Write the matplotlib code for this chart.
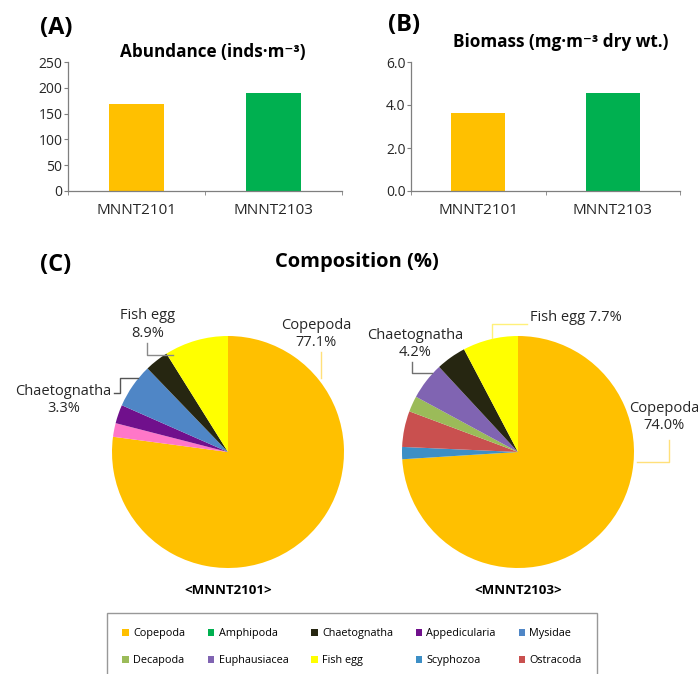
import matplotlib.pyplot as plt
from matplotlib.patches import Patch
import numpy as np

plt.rcParams['font.family'] = ['Open Sans', 'DejaVu Sans']

# Bar data
stations = ["MNNT2101", "MNNT2103"]
abundance = [168, 190]
biomass = [3.65, 4.55]
bar_colors = ["#FFC000", "#00B050"]

# Taxon palette
taxa = ["Copepoda", "Amphipoda", "Chaetognatha", "Appedicularia", "Mysidae",
        "Decapoda", "Euphausiacea", "Fish egg", "Scyphozoa", "Ostracoda"]
taxa_colors = {
    "Copepoda": "#FFC000", "Amphipoda": "#00B050", "Chaetognatha": "#262611",
    "Appedicularia": "#70108C", "Mysidae": "#4F86C6", "Decapoda": "#9BBB59",
    "Euphausiacea": "#8064B2", "Fish egg": "#FFFF00", "Scyphozoa": "#3D8FC6",
    "Ostracoda": "#C9504F", "Others": "#FF77C8",
}

# Composition (%) clockwise from 12 o'clock
comp1_taxa = ["Copepoda", "Others", "Appedicularia", "Mysidae", "Chaetognatha", "Fish egg"]
comp1_vals = [77.1, 1.9, 2.6, 6.2, 3.3, 8.9]
comp2_taxa = ["Copepoda", "Scyphozoa", "Ostracoda", "Decapoda", "Euphausiacea", "Chaetognatha", "Fish egg"]
comp2_vals = [74.0, 1.7, 5.0, 2.2, 5.2, 4.2, 7.7]

W, H = 698, 674
fig = plt.figure(figsize=(W / 100, H / 100), dpi=100)


def px_axes(x0, y0, x1, y1):
    """axes from pixel box (top-left origin)"""
    return fig.add_axes([x0 / W, 1 - y1 / H, (x1 - x0) / W, (y1 - y0) / H])


def style_bar_axes(ax, ymax, step, fmt):
    x = np.arange(len(stations))
    ax.set_xlim(-0.5, 1.5)
    ax.set_ylim(0, ymax)
    ax.set_yticks(np.arange(0, ymax + step / 2, step))
    ax.yaxis.set_major_formatter(plt.FuncFormatter(lambda v, p: fmt.format(v)))
    ax.set_xticks(x)
    ax.set_xticklabels(stations, fontsize=11, color="#262626")
    ax.set_xticks([-0.5, 0.5, 1.5], minor=True)
    ax.tick_params(axis='x', which='major', length=0, pad=9)
    ax.tick_params(axis='x', which='minor', length=3, color="#7f7f7f")
    ax.tick_params(axis='y', length=3, color="#7f7f7f", labelsize=10, pad=1, labelcolor="#262626")
    for s in ("top", "right"):
        ax.spines[s].set_visible(False)
    for s in ("left", "bottom"):
        ax.spines[s].set_color("#7f7f7f")
        ax.spines[s].set_linewidth(0.9)


# ── (A) Abundance ──
axA = px_axes(68, 62, 342, 191)
axA.bar(np.arange(2), abundance, 0.4, color=bar_colors)
style_bar_axes(axA, 250, 50, "{:.0f}")
fig.text(40 / W, 1 - 28 / H, "(A)", fontsize=17, fontweight="bold", va="center")
fig.text(213 / W, 1 - 52 / H, "Abundance (inds\u00b7m\u207b\u00b3)", fontsize=12.3,
         fontweight="bold", ha="center", va="center")

# ── (B) Biomass ──
axB = px_axes(411, 62, 680, 191)
axB.bar(np.arange(2), biomass, 0.4, color=bar_colors)
style_bar_axes(axB, 6.0, 2.0, "{:.1f}")
fig.text(388 / W, 1 - 25 / H, "(B)", fontsize=17, fontweight="bold", va="center")
fig.text(561 / W, 1 - 42 / H, "Biomass (mg\u00b7m\u207b\u00b3 dry wt.)", fontsize=12.3,
         fontweight="bold", ha="center", va="center")

# ── (C) Composition ──
fig.text(40 / W, 1 - 265 / H, "(C)", fontsize=17, fontweight="bold", va="center")
fig.text(357 / W, 1 - 262 / H, "Composition (%)", fontsize=14.5, fontweight="bold",
         ha="center", va="center")

R = 116  # pie radius in pixels
L = 1.45


def pie_axes(cx, cy):
    half = R * L
    ax = px_axes(cx - half, cy - half, cx + half, cy + half)
    ax.axis("off")
    return ax


def fix_limits(ax):
    # pie() resets the limits, so pin them afterwards
    ax.set_xlim(-L, L)
    ax.set_ylim(-L, L)
    ax.set_aspect("equal")


def leader(ax, pts, color):
    pts = np.array(pts)
    ax.plot(pts[:, 0], pts[:, 1], color=color, lw=1.0, clip_on=False)


lbl_kw = dict(fontsize=10.5, ha="center", va="center", linespacing=1.2, color="#262626")

ax1 = pie_axes(228, 452)
ax1.pie(comp1_vals, colors=[taxa_colors[t] for t in comp1_taxa], startangle=90,
        counterclock=False, radius=1.0)
fix_limits(ax1)
ax1.text(0.76, 1.02, "Copepoda\n77.1%", clip_on=False, **lbl_kw)
leader(ax1, [(0.80, 0.86), (0.80, 0.64)], "#FFE07A")
ax1.text(-0.69, 1.10, "Fish egg\n8.9%", clip_on=False, **lbl_kw)
leader(ax1, [(-0.70, 0.94), (-0.70, 0.84), (-0.47, 0.84)], "#8a8a8a")
ax1.text(-1.42, 0.45, "Chaetognatha\n3.3%", clip_on=False, **lbl_kw)
leader(ax1, [(-0.98, 0.51), (-0.93, 0.51), (-0.93, 0.64), (-0.78, 0.64)], "#555555")
ax1.text(0, -1.19, "<MNNT2101>", fontsize=9.5, fontweight="bold", ha="center", va="center")

ax2 = pie_axes(518, 452)
ax2.pie(comp2_vals, colors=[taxa_colors[t] for t in comp2_taxa], startangle=90,
        counterclock=False, radius=1.0)
fix_limits(ax2)
ax2.text(0.50, 1.16, "Fish egg 7.7%", clip_on=False, **lbl_kw)
leader(ax2, [(0.08, 1.10), (-0.22, 1.10), (-0.22, 0.98)], "#FFF07A")
ax2.text(-0.89, 0.93, "Chaetognatha\n4.2%", clip_on=False, **lbl_kw)
leader(ax2, [(-0.91, 0.78), (-0.91, 0.68), (-0.74, 0.68)], "#707070")
ax2.text(1.26, 0.30, "Copepoda\n74.0%", clip_on=False, **lbl_kw)
leader(ax2, [(1.30, 0.10), (1.30, -0.09), (1.03, -0.09)], "#FFE07A")
ax2.text(0, -1.19, "<MNNT2103>", fontsize=9.5, fontweight="bold", ha="center", va="center")

# legend (column-major fill, so interleave the two rows)
order = [0, 5, 1, 6, 2, 7, 3, 8, 4, 9]
handles = [Patch(facecolor=taxa_colors[taxa[i]], label=taxa[i]) for i in order]
leg = fig.legend(handles=handles, ncol=5, loc="upper left",
                 bbox_to_anchor=(107 / W, 1 - 613 / H), fontsize=7.8,
                 frameon=True, fancybox=False, edgecolor="#7f7f7f",
                 handlelength=0.6, handleheight=0.6, handletextpad=0.4,
                 columnspacing=2.1, labelspacing=1.5, borderpad=1.4,
                 borderaxespad=0)
leg.get_frame().set_linewidth(1.0)

fig.savefig("out.png", dpi=100)
